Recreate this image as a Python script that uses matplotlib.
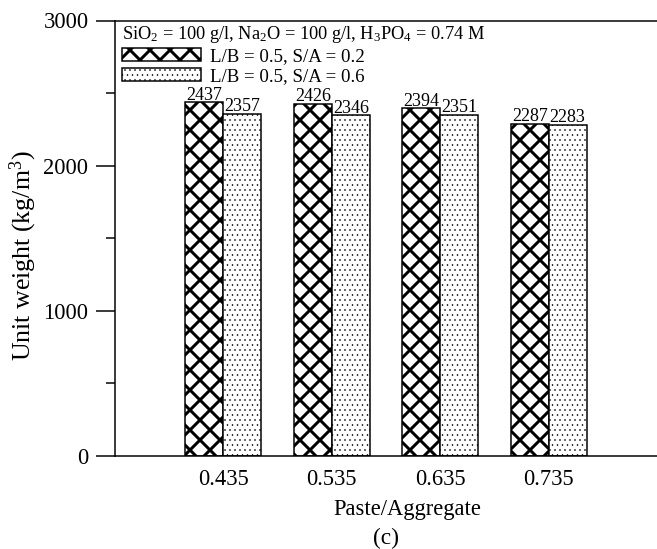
import matplotlib
matplotlib.use("Agg")
import matplotlib.pyplot as plt
import numpy as np
from matplotlib.ticker import MultipleLocator

plt.rcParams['font.family'] = ['Liberation Serif', 'DejaVu Serif']
plt.rcParams['mathtext.fontset'] = 'custom'
plt.rcParams['mathtext.rm'] = 'Liberation Serif'
plt.rcParams['mathtext.it'] = 'Liberation Serif:italic'

# ---- data ----
categories = ["0.435", "0.535", "0.635", "0.735"]
series_names = ["L/B = 0.5, S/A = 0.2", "L/B = 0.5, S/A = 0.6"]
sa02 = [2437, 2426, 2394, 2287]
sa06 = [2357, 2346, 2351, 2283]
title_text = "SiO$_2$ = 100 g/l, Na$_2$O = 100 g/l, H$_3$PO$_4$ = 0.74 M"

W, H, DPI = 657, 549, 120
unit_px = 108.4
right_px = 700
fig = plt.figure(figsize=(W / DPI, H / DPI), dpi=DPI)
ax = fig.add_axes([115 / W, (H - 456) / H, (right_px - 115) / W, (456 - 20.5) / H])

x = np.arange(1, len(categories) + 1)
bw = 0.35
with plt.rc_context({'hatch.linewidth': 1.8}):
    b1 = ax.bar(x - bw / 2, sa02, bw, facecolor='white', edgecolor='black',
                linewidth=0.9, hatch='xx', label=series_names[0])
with plt.rc_context({'hatch.linewidth': 0.35}):
    b2 = ax.bar(x + bw / 2, sa06, bw, facecolor='white', edgecolor='black',
                linewidth=0.9, hatch='....', label=series_names[1])
for bars, lw in ((b1, 1.8), (b2, 0.35)):
    for p in bars:
        if hasattr(p, 'set_hatch_linewidth'):
            p.set_hatch_linewidth(lw)

ax.bar_label(b1, labels=[str(v) for v in sa02], padding=-0.8, fontsize=10.8)
ax.bar_label(b2, labels=[str(v) for v in sa06], padding=-0.8, fontsize=10.8)

xmax = (right_px - 115) / unit_px
ax.set_xlim(0, xmax)
ax.set_ylim(0, 3000)
ax.set_xticks(x)
ax.set_xticklabels(categories)
ax.yaxis.set_major_locator(MultipleLocator(1000))
ax.yaxis.set_minor_locator(MultipleLocator(500))
ax.tick_params(axis='x', length=0, pad=8, labelsize=13.5)
ax.tick_params(axis='y', which='major', direction='out', length=11.4, width=0.9,
               pad=4.5, labelsize=13.5)
ax.tick_params(axis='y', which='minor', direction='out', length=5.4, width=0.9)

for s in ['left', 'bottom', 'top']:
    ax.spines[s].set_linewidth(0.9)
    ax.spines[s].set_clip_on(False)
ax.spines['top'].set_bounds(0, xmax)
ax.spines['bottom'].set_bounds(0, xmax)
ax.spines['right'].set_visible(False)

ax.set_xlabel("Paste/Aggregate", fontsize=13.5, labelpad=5)
ax.set_ylabel("Unit weight (kg/m$^3$)", fontsize=15.5)
ax.yaxis.set_label_coords(0, 0.5)
ax.yaxis.label.set_transform(fig.transFigure)
ax.yaxis.label.set_position((39 / W, (H - 256) / H))

ax.text((122 - 115) / (right_px - 115), (456 - 39) / 435.5, title_text,
        fontsize=11.0, transform=ax.transAxes, ha='left', va='baseline')

leg = ax.legend(loc='upper left', bbox_to_anchor=(122 / W, (H - 48) / H),
                bbox_transform=fig.transFigure, frameon=False, fontsize=11.3,
                handlelength=4.2, handleheight=0.69, handletextpad=0.48,
                labelspacing=0.16, borderpad=0, borderaxespad=0)
for h, lw in zip(leg.legend_handles, (1.8, 0.35)):
    if hasattr(h, 'set_hatch_linewidth'):
        h.set_hatch_linewidth(lw)

fig.text(0.5 * (115 + 657) / W, (H - 538) / H, "(c)", fontsize=14,
         ha='center', va='center')

fig.savefig("out.png", dpi=DPI)
